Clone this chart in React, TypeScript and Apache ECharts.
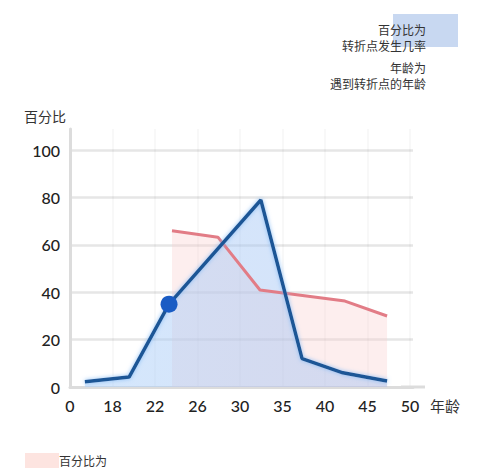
import * as echarts from 'echarts';
import React, { useEffect, useRef } from 'react';

// tick labels along the age axis (evenly spaced, not to scale)
const ageTicks = ['0', '18', '22', '26', '30', '35', '40', '45', '50'];

// blue series: chance that a turning point happens (x = position on the age axis)
const turnX = [0.35, 1.39, 2.33, 4.49, 5.46, 6.42, 7.46];
const turnY = [2.2, 4.2, 35, 79, 12, 6, 2.5];

// red series: age at which people meet the turning point
const ageX = [2.4, 3.48, 4.47, 6.47, 7.46];
const ageY = [66, 63.3, 41, 36.3, 30];

// highlighted point on the blue line
const markX = [2.33];
const markY = [35];

const font = '"Noto Sans CJK SC", "Noto Sans", sans-serif';

const App: React.FC = () => {
  const chartRef = useRef<HTMLDivElement>(null);

  useEffect(() => {
    document.body.style.margin = '0';
    const myChart = echarts.init(chartRef.current!, null, { renderer: 'svg' });

    const turnData = turnX.map((x, i) => [x, turnY[i]]);
    const ageData = ageX.map((x, i) => [x, ageY[i]]);

    const option = {
      animation: false,
      backgroundColor: '#fff',
      grid: { left: 70, right: 68, top: 129, bottom: 81 },
      xAxis: {
        type: 'value',
        min: 0,
        max: 8.07,
        interval: 1,
        name: '年龄',
        nameLocation: 'end',
        nameGap: 17,
        nameTextStyle: { color: '#333', fontSize: 15, fontFamily: font, verticalAlign: 'top', padding: [11, 0, 0, 0] },
        axisLine: {
          lineStyle: { color: '#dcdcdc', width: 3 },
          symbol: ['none', 'rect'],
          symbolSize: [3, 24],
        },
        axisTick: { show: false },
        axisLabel: {
          margin: 10,
          color: '#222',
          fontSize: 16,
          fontWeight: 500,
          fontFamily: 'Lato, sans-serif',
          showMaxLabel: false,
          formatter: (v: number) => (Number.isInteger(v) ? ageTicks[v] ?? '' : ''),
        },
        splitLine: { show: true, showMaxLine: false, showMinLine: false, lineStyle: { color: 'rgba(0,0,0,0.04)', width: 1.5 } },
      },
      yAxis: {
        type: 'value',
        min: 0,
        max: 109,
        interval: 20,
        name: '百分比',
        nameLocation: 'end',
        nameGap: 6,
        nameTextStyle: { color: '#333', fontSize: 14, fontFamily: font, align: 'right', verticalAlign: 'bottom', padding: [0, 4, 0, 0] },
        axisLine: { show: true, lineStyle: { color: '#dcdcdc', width: 3 } },
        axisTick: { show: false },
        axisLabel: {
          margin: 10,
          color: '#222',
          fontSize: 16,
          fontWeight: 500,
          fontFamily: 'Lato, sans-serif',
          padding: [0, 0, 6, 0],
          showMaxLabel: false,
          formatter: (v: number) => (v % 20 === 0 ? String(v) : ''),
        },
        splitLine: { show: true, showMaxLine: false, lineStyle: { color: '#e6e6e6', width: 2.5 } },
      },
      series: [
        // red area
        {
          type: 'line',
          data: ageData,
          showSymbol: false,
          lineStyle: { width: 0 },
          areaStyle: { color: 'rgba(250,205,205,0.5)', origin: 'start' },
          z: 1,
        },
        // blue area
        {
          type: 'line',
          data: turnData,
          showSymbol: false,
          lineStyle: { width: 0 },
          areaStyle: {
            origin: 'start',
            color: new echarts.graphic.LinearGradient(0, 0, 1, 0, [
              { offset: 0, color: 'rgba(175,210,250,0.75)' },
              { offset: 1, color: 'rgba(150,185,240,0.55)' },
            ]),
          },
          z: 2,
        },
        // red line
        {
          type: 'line',
          data: ageData,
          showSymbol: false,
          lineStyle: { color: '#e27c86', width: 3 },
          z: 3,
        },
        // blue line
        {
          type: 'line',
          data: turnData,
          showSymbol: false,
          lineStyle: { color: '#1d5796', width: 3.5, shadowColor: 'rgba(130,185,245,0.9)', shadowBlur: 4 },
          z: 4,
        },
        {
          type: 'scatter',
          data: markX.map((x, i) => [x, markY[i]]),
          symbolSize: 17,
          itemStyle: { color: '#1a5cc4', opacity: 1 },
          z: 5,
        },
      ],
      graphic: [
        { type: 'rect', shape: { x: 393, y: 14, width: 65, height: 33 }, style: { fill: '#c8d8f1' }, z: 1 },
        {
          type: 'text', x: 426, y: 29, z: 2,
          style: { text: '百分比为', fill: '#333', fontSize: 12, fontFamily: font, align: 'right', verticalAlign: 'middle' },
        },
        {
          type: 'text', x: 426, y: 45, z: 2,
          style: { text: '转折点发生几率', fill: '#333', fontSize: 12, fontFamily: font, align: 'right', verticalAlign: 'middle' },
        },
        {
          type: 'text', x: 426, y: 67, z: 2,
          style: { text: '年龄为', fill: '#333', fontSize: 12, fontFamily: font, align: 'right', verticalAlign: 'middle' },
        },
        {
          type: 'text', x: 426, y: 83, z: 2,
          style: { text: '遇到转折点的年龄', fill: '#333', fontSize: 12, fontFamily: font, align: 'right', verticalAlign: 'middle' },
        },
        { type: 'rect', shape: { x: 25, y: 453, width: 34, height: 15 }, style: { fill: '#fde4e0' }, z: 1 },
        {
          type: 'text', x: 59, y: 460, z: 2,
          style: { text: '百分比为', fill: '#333', fontSize: 12, fontFamily: font, align: 'left', verticalAlign: 'middle' },
        },
      ],
    };

    myChart.setOption(option);

    return () => {
      myChart.dispose();
    };
  }, []);

  return <div ref={chartRef} style={{ width: '481px', height: '468px' }} />;
};

export default App;
